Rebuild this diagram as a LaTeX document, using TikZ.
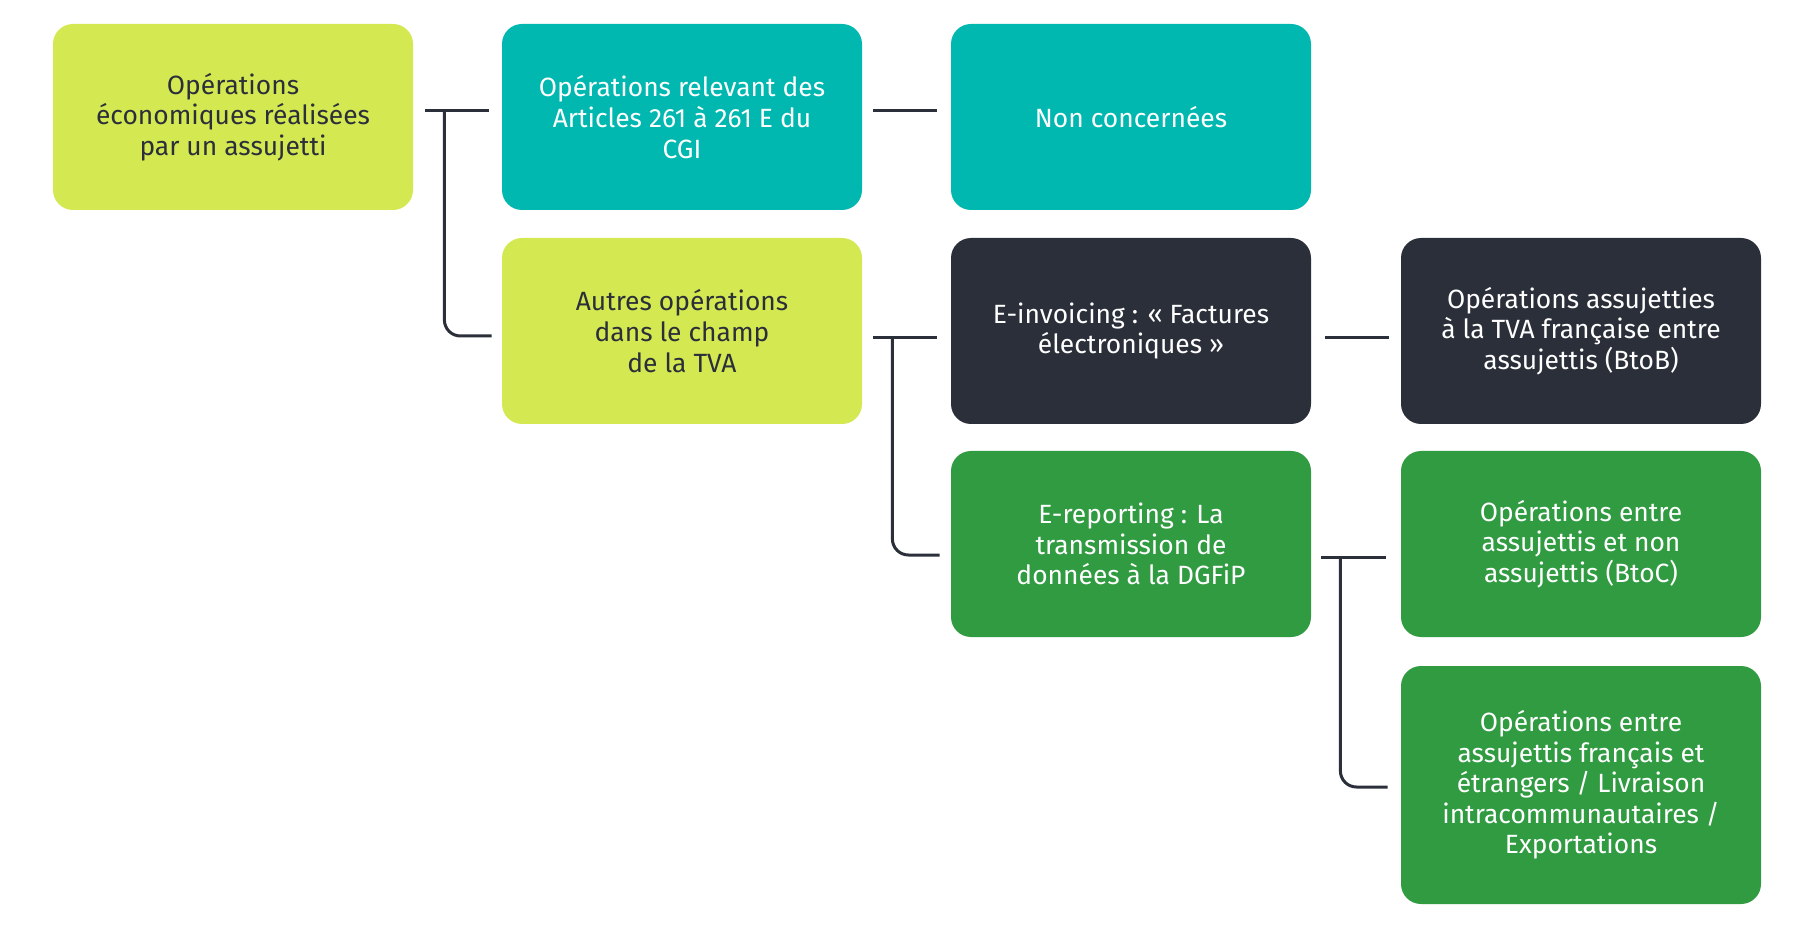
\documentclass[tikz,border=0pt]{standalone}
\usepackage{fontspec}
\setmainfont{Fira Sans}
\usetikzlibrary{calc}
\definecolor{lime}{HTML}{D4E851}
\definecolor{teal}{HTML}{00B8B0}
\definecolor{ink}{HTML}{2B2F3A}
\definecolor{leaf}{HTML}{319B42}
\begin{document}
\begin{tikzpicture}[x=0.5pt,y=-0.5pt,
        box/.style={rounded corners=10pt,minimum width=180pt,minimum height=93pt,
                inner sep=0pt,align=center,font=\fontsize{13.2}{15.3}\selectfont},
        limebox/.style={box,fill=lime,text=ink},
        tealbox/.style={box,fill=teal,text=white},
        inkbox/.style={box,fill=ink,text=white},
        leafbox/.style={box,fill=leaf,text=white},
        link/.style={draw=ink,line width=1.5pt}]
                \useasboundingbox (0,0) rectangle (1815,930);
                
                \node[limebox] (ops) at (233,117) {Opérations\\économiques réalisées\\par un assujetti};
                \node[tealbox] (art) at (682,117) {Opérations relevant des\\Articles 261 à 261 E du\\CGI};
                \node[tealbox] (non) at (1131,117) {Non concernées};
                \node[limebox] (autres) at (682,331) {Autres opérations\\dans le champ\\de la TVA};
                \node[inkbox] (einv) at (1131,331) {E-invoicing : « Factures\\électroniques »};
                \node[inkbox] (btob) at (1581,331) {Opérations assujetties\\à la TVA française entre\\assujettis (BtoB)};
                \node[leafbox] (erep) at (1131,544) {E-reporting : La\\transmission de\\données à la DGFiP};
                \node[leafbox] (btoc) at (1581,544) {Opérations entre\\assujettis et non\\assujettis (BtoC)};
                \node[leafbox,minimum height=119pt] (export) at (1581,785) {Opérations entre\\assujettis français et\\étrangers / Livraison\\intracommunautaires /\\Exportations};
                
                \draw[link] ($(ops.east)+(12,-6)$) -- ($(art.west)+(-13,-6)$); % first branch
                \draw[link,rounded corners=8pt] ($(ops.east)+(31,-6)$) |- ($(autres.west)+(-10,5)$);
                
                \draw[link] ($(art.east)+(11,-6)$) -- ($(non.west)+(-14,-6)$);
                
                \draw[link] ($(autres.east)+(11,7)$) -- ($(einv.west)+(-14,7)$); % second branch
                \draw[link,rounded corners=8pt] ($(autres.east)+(30,7)$) |- ($(erep.west)+(-11,11)$);
                
                \draw[link] ($(einv.east)+(14,7)$) -- ($(btob.west)+(-12,7)$);
                
                \draw[link] ($(erep.east)+(10,13)$) -- ($(btoc.west)+(-15,13)$); % third branch
                \draw[link,rounded corners=8pt] ($(erep.east)+(29,13)$) |- ($(export.west)+(-13,2)$);
            \end{tikzpicture}
\end{document}
